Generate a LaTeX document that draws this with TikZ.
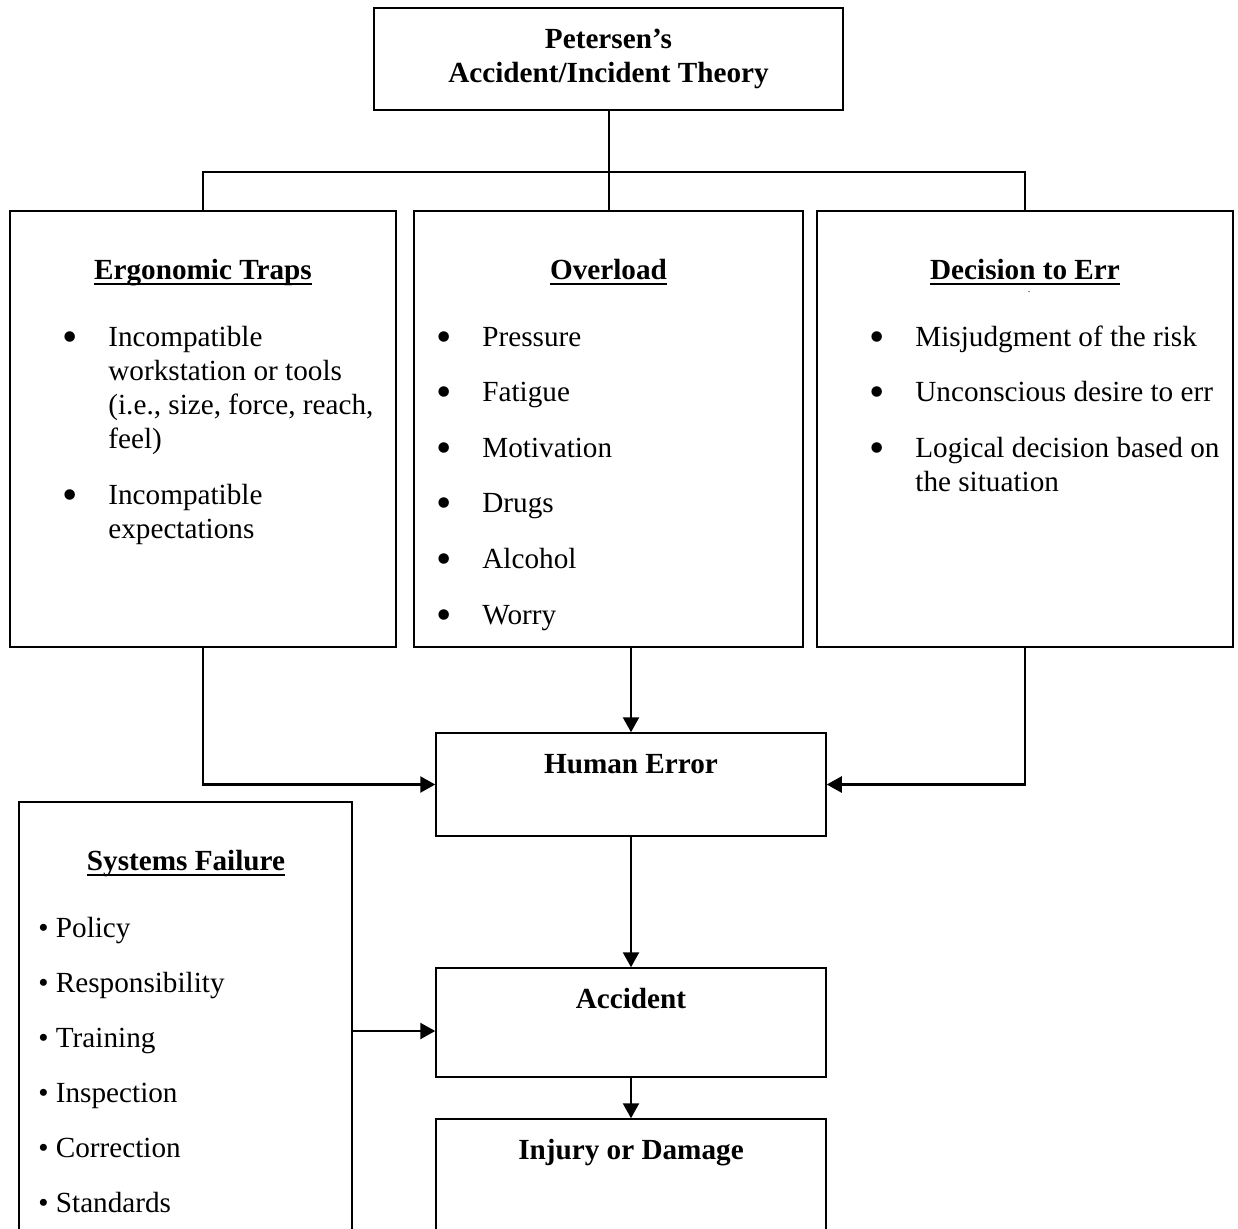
\documentclass[tikz,border=0pt]{standalone}
\usepackage{fontspec}
\setmainfont{Liberation Serif}
\usetikzlibrary{arrows.meta}
\newcommand{\bul}{\makebox[23pt][l]{\raisebox{-2.5pt}{\scalebox{1.5}{\textbullet}}}}
\newcommand{\bulskip}{\hspace*{23pt}}
\newcommand{\uln}[1]{\setbox0\hbox{#1}\rlap{\vrule width\wd0 height -2pt depth 3pt}\box0}
\begin{document}
\begin{tikzpicture}[x=0.5pt,y=-0.5pt,
    box/.style={draw,line width=0.75pt,inner sep=0pt},
    txt/.style={font=\fontsize{14.6}{17}\selectfont,inner sep=0pt,anchor=base},
    hd/.style={txt,font=\fontsize{14.6}{17}\selectfont\bfseries},
    lst/.style={txt,anchor=base west},
    arr/.style={line width=1.2pt,-{Triangle[length=7.5pt,width=8pt]}}]
    \useasboundingbox (0,0) rectangle (1238,1228);
    \clip (0,0) rectangle (1238,1228);
    \node[box,minimum width=234.5pt,minimum height=51pt] (title) at (608.5,59) {};
    \node[hd] (titletxt) at (608.5,48) {\begin{tabular}[t]{@{}c@{}}Petersen’s\\Accident/Incident Theory\end{tabular}};
    \node[box,minimum width=193pt,minimum height=218pt] (ergo) at (203,429) {};
    \node[box,minimum width=194.5pt,minimum height=218pt] (over) at (608.5,429) {};
    \node[box,minimum width=208pt,minimum height=218pt] (deci) at (1025,429) {};
    \node[hd] (ergohd) at (203,279) {\uln{Ergonomic Traps}};
    \node[hd] (overhd) at (608.5,279) {\uln{Overload}};
    \node[hd] (decihd) at (1025,279) {\uln{Decision to Err}};
    \node[txt,font=\tiny] (dot) at (1029,292) {.};
    \node[lst] (ergolist) at (62,346) {\begin{tabular}[t]{@{}l@{}}\bul Incompatible\\ \bulskip workstation or tools\\ \bulskip (i.e., size, force, reach,\\ \bulskip feel)\\[11pt] \bul Incompatible\\ \bulskip expectations\end{tabular}};
    \foreach \w [count=\i] in {Pressure,Fatigue,Motivation,Drugs,Alcohol,Worry}
        \node[lst] (over\i) at (436,{346+55.6*(\i-1)}) {\bul \w};
    \node[lst] (decilist) at (869,346) {\begin{tabular}[t]{@{}l@{}}\bul Misjudgment of the risk\\[10.8pt] \bul Unconscious desire to err\\[10.8pt] \bul Logical decision based on\\ \bulskip the situation\end{tabular}};
    \node[box,minimum width=195pt,minimum height=51.5pt] (human) at (631,784.5) {};
    \node[hd] (humantxt) at (631,773) {Human Error};
    \node[box,minimum width=166.5pt,minimum height=229pt] (sys) at (185.5,1031) {};
    \node[hd] (syshd) at (186,870) {\uln{Systems Failure}};
    \foreach \w [count=\i] in {Policy,Responsibility,Training,Inspection,Correction,Standards}
        \node[lst] (sys\i) at (38,{937+55*(\i-1)}) {\textbullet{} \w};
    \node[box,minimum width=195pt,minimum height=54.5pt] (acc) at (631,1022.5) {};
    \node[hd] (acctxt) at (631,1008) {Accident};
    \node[box,minimum width=195pt,minimum height=70.5pt] (inj) at (631,1189.5) {};
    \node[hd] (injtxt) at (631,1159) {Injury or Damage};
    \coordinate (bus) at (608.5,172);
    \draw[line width=1pt] (title.south) -- (over.north);
    \draw[line width=1pt] (ergo.north) |- (bus) -| (deci.north);
    \draw[arr] (human.north |- over.south) -- (human.north);
    \draw[arr] (ergo.south) |- (human.west);
    \draw[arr] (deci.south) |- (human.east);
    \draw[arr] (human) -- (acc);
    \draw[arr] (sys.east) -- (sys.east -| acc.west);
    \draw[arr] (acc) -- (inj);
\end{tikzpicture}
\end{document}
